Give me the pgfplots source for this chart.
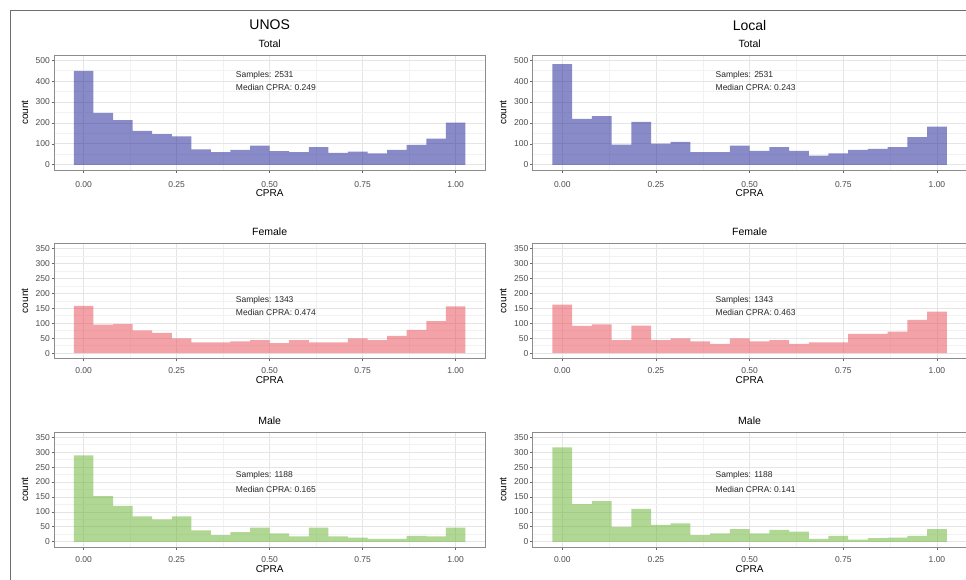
\documentclass[border=0pt]{standalone}
\usepackage{pgfplots}
\pgfplotsset{compat=1.18}
\usepackage{pgfplotstable}
\usepackage{fontspec}
\setmainfont{Liberation Sans}

\definecolor{totalfill}{RGB}{21,23,147}
\definecolor{femalefill}{RGB}{233,71,81}
\definecolor{malefill}{RGB}{101,177,45}
\definecolor{framegray}{RGB}{110,110,110}

% CPRA histograms: 20 bins of width 1/19, rows hold left bin edges,
% the last row closes the final bin.
\pgfplotstableread{
x y
-0.026316 449
0.026316 248
0.078947 214
0.131579 162
0.184211 147
0.236842 136
0.289474 74
0.342105 60
0.394737 71
0.447368 91
0.500000 65
0.552632 60
0.605263 85
0.657895 57
0.710526 63
0.763158 54
0.815789 71
0.868421 95
0.921053 125
0.973684 202
1.026316 202
}\unosTotal

\pgfplotstableread{
x y
-0.026316 481
0.026316 219
0.078947 233
0.131579 96
0.184211 205
0.236842 101
0.289474 110
0.342105 60
0.394737 60
0.447368 91
0.500000 66
0.552632 84
0.605263 66
0.657895 44
0.710526 55
0.763158 71
0.815789 76
0.868421 85
0.921053 132
0.973684 183
1.026316 183
}\localTotal

\pgfplotstableread{
x y
-0.026316 158
0.026316 95
0.078947 97
0.131579 76
0.184211 68
0.236842 49
0.289474 36
0.342105 36
0.394737 39
0.447368 43
0.500000 33
0.552632 43
0.605263 36
0.657895 36
0.710526 49
0.763158 43
0.815789 58
0.868421 78
0.921053 107
0.973684 156
1.026316 156
}\unosFemale

\pgfplotstableread{
x y
-0.026316 162
0.026316 91
0.078947 96
0.131579 43
0.184211 92
0.236842 43
0.289474 49
0.342105 39
0.394737 31
0.447368 49
0.500000 39
0.552632 43
0.605263 31
0.657895 36
0.710526 36
0.763158 64
0.815789 64
0.868421 72
0.921053 111
0.973684 139
1.026316 139
}\localFemale

\pgfplotstableread{
x y
-0.026316 289
0.026316 153
0.078947 120
0.131579 85
0.184211 75
0.236842 85
0.289474 38
0.342105 22
0.394737 32
0.447368 47
0.500000 28
0.552632 18
0.605263 47
0.657895 18
0.710526 14
0.763158 10
0.815789 10
0.868421 20
0.921053 18
0.973684 47
1.026316 47
}\unosMale

\pgfplotstableread{
x y
-0.026316 316
0.026316 126
0.078947 136
0.131579 50
0.184211 110
0.236842 57
0.289474 62
0.342105 22
0.394737 28
0.447368 42
0.500000 28
0.552632 40
0.605263 34
0.657895 10
0.710526 20
0.763158 7
0.815789 12
0.868421 14
0.921053 20
0.973684 42
1.026316 42
}\localMale

\tikzset{
  note/.style={anchor=west, font=\fontsize{8.5}{10}\selectfont, text=black!85},
}

\pgfplotsset{
  panel/.style={
    scale only axis,
    height=115pt,
    xmin=-0.078947, xmax=1.078947,
    axis line style={draw=black!45, line width=0.9pt},
    tick align=outside,
    tick pos=left,
    major tick length=2.7pt,
    minor tick length=0pt,
    every tick/.style={draw=black!60, line width=0.7pt},
    xtick={0,0.25,0.5,0.75,1},
    xticklabels={0.00,0.25,0.50,0.75,1.00},
    minor xtick={0.125,0.375,0.625,0.875},
    grid=both,
    major grid style={draw=black!10, line width=0.8pt},
    minor grid style={draw=black!5, line width=0.5pt},
    tick label style={font=\fontsize{8.5}{10}\selectfont, text=black!70},
    yticklabel style={inner sep=1.5pt},
    xlabel={CPRA}, ylabel={count},
    label style={font=\fontsize{13}{15}\selectfont},
    every axis y label/.style={at={(axis description cs:-0.068,0.5)}, rotate=90, anchor=center},
    every axis title/.style={at={(axis description cs:0.5,1)}, anchor=center, yshift=11.5pt,
      font=\fontsize{10.5}{12}\selectfont},
  },
  leftcol/.style={panel, width=430.7pt},
  rightcol/.style={panel, width=433.8pt},
  totalrow/.style={ymin=-25, ymax=525,
    ytick={0,100,200,300,400,500}, yticklabels={0,100,200,300,400,500},
    minor ytick={50,150,250,350,450},
    xticklabel style={anchor=center, yshift=-11.5pt},
    every axis x label/.style={at={(axis description cs:0.5,-0.2)}, anchor=center}},
  sexrow/.style={ymin=-17.5, ymax=367.5,
    ytick={0,50,100,150,200,250,300,350},
    yticklabels={0,50,100,150,200,250,300,350},
    minor ytick={25,75,125,175,225,275,325},
    xticklabel style={anchor=center, yshift=-10pt},
    every axis x label/.style={at={(axis description cs:0.5,-0.19)}, anchor=center}},
  hist/.style={const plot mark left, draw=none, fill opacity=0.5},
}

\begin{document}
\begin{tikzpicture}
\path[use as bounding box] (0pt,0pt) rectangle (966pt,-580pt);
\clip (0pt,0pt) rectangle (966pt,-580pt);
\fill[white] (0pt,0pt) rectangle (966pt,-580pt);

% outer frame (top and left edges)
\draw[framegray, line width=1.6pt] (10.5pt,-580pt) -- (10.5pt,-10.5pt) -- (966pt,-10.5pt);

% column headers
\node[font=\fontsize{14}{16}\selectfont] at (269.7pt,-25pt) {UNOS};
\node[font=\fontsize{14}{16}\selectfont] at (749.6pt,-25pt) {Local};

% ---- UNOS column ----
\begin{axis}[leftcol, totalrow, title={Total}, at={(54.3pt,-170pt)}, anchor=south west]
  \addplot[hist, fill=totalfill] table[x=x, y=y] {\unosTotal} \closedcycle;
  \node[note] at (axis cs:0.4,429) {Samples: 2531};
  \node[note] at (axis cs:0.4,369) {Median CPRA: 0.249};
\end{axis}

\begin{axis}[leftcol, sexrow, title={Female}, at={(54.3pt,-358.3pt)}, anchor=south west]
  \addplot[hist, fill=femalefill] table[x=x, y=y] {\unosFemale} \closedcycle;
  \node[note] at (axis cs:0.4,178) {Samples: 1343};
  \node[note] at (axis cs:0.4,136) {Median CPRA: 0.474};
\end{axis}

\begin{axis}[leftcol, sexrow, title={Male}, at={(54.3pt,-547pt)}, anchor=south west]
  \addplot[hist, fill=malefill] table[x=x, y=y] {\unosMale} \closedcycle;
  \node[note] at (axis cs:0.4,221) {Samples: 1188};
  \node[note] at (axis cs:0.4,175) {Median CPRA: 0.165};
\end{axis}

% ---- Local column ----
\begin{axis}[rightcol, totalrow, title={Total}, at={(532.7pt,-170pt)}, anchor=south west]
  \addplot[hist, fill=totalfill] table[x=x, y=y] {\localTotal} \closedcycle;
  \node[note] at (axis cs:0.4,429) {Samples: 2531};
  \node[note] at (axis cs:0.4,369) {Median CPRA: 0.243};
\end{axis}

\begin{axis}[rightcol, sexrow, title={Female}, at={(532.7pt,-358.3pt)}, anchor=south west]
  \addplot[hist, fill=femalefill] table[x=x, y=y] {\localFemale} \closedcycle;
  \node[note] at (axis cs:0.4,178) {Samples: 1343};
  \node[note] at (axis cs:0.4,136) {Median CPRA: 0.463};
\end{axis}

\begin{axis}[rightcol, sexrow, title={Male}, at={(532.7pt,-547pt)}, anchor=south west]
  \addplot[hist, fill=malefill] table[x=x, y=y] {\localMale} \closedcycle;
  \node[note] at (axis cs:0.4,221) {Samples: 1188};
  \node[note] at (axis cs:0.4,175) {Median CPRA: 0.141};
\end{axis}
\end{tikzpicture}
\end{document}
